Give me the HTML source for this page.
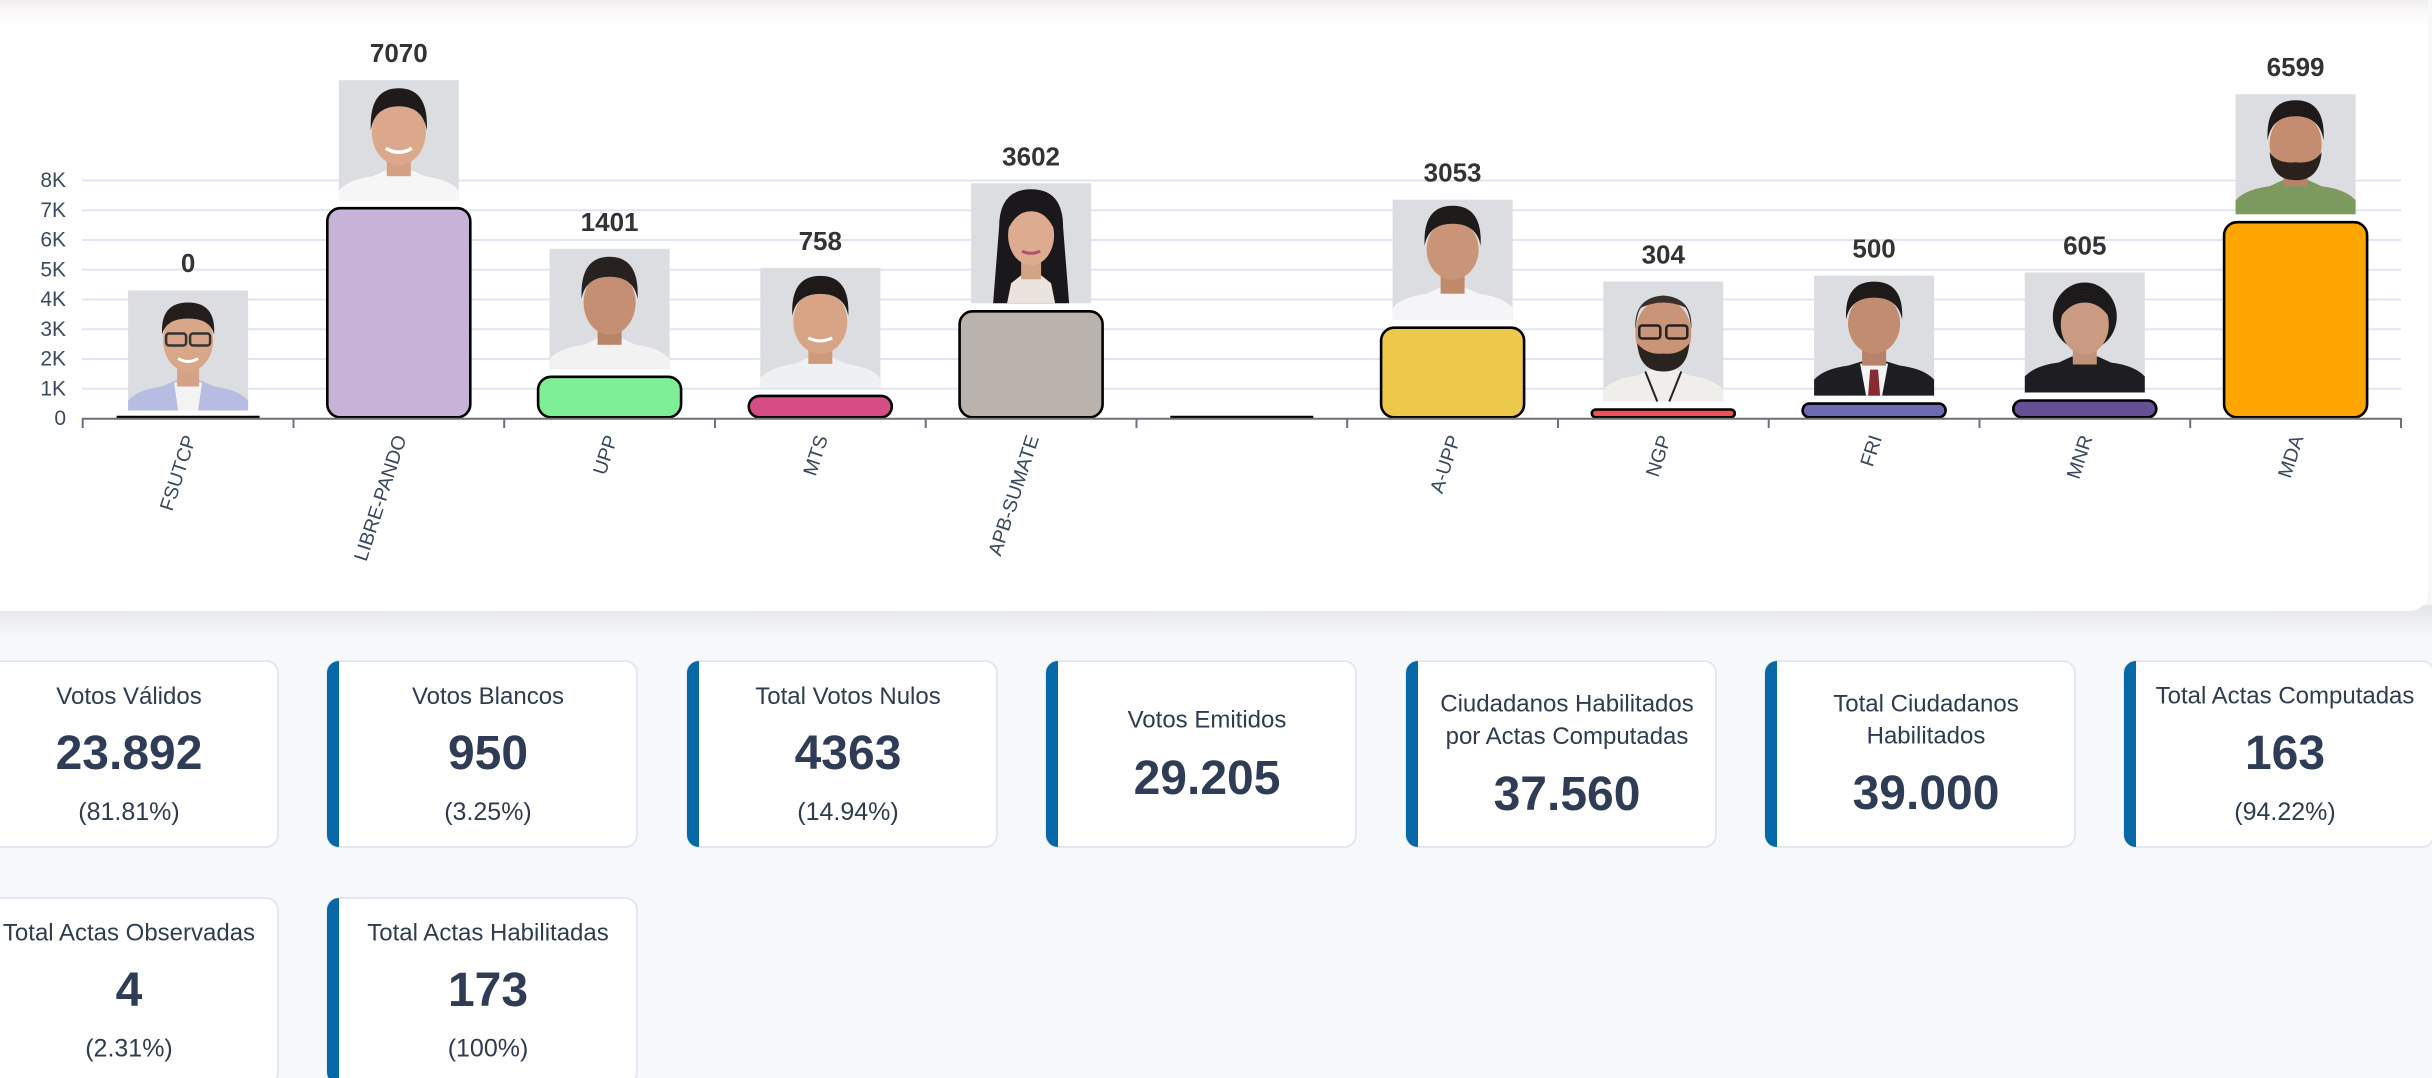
<!DOCTYPE html>
<html>
<head>
<meta charset="utf-8">
<style>
html,body{margin:0;padding:0;background:#f7f8fa;}
body{width:2432px;height:1078px;overflow:hidden;}
svg{display:block;font-family:"Liberation Sans",Arial,sans-serif;}
</style>
</head>
<body>
<svg width="2432" height="1078" viewBox="0 0 2432 1078" xmlns="http://www.w3.org/2000/svg">
<defs>
<linearGradient id="topg" x1="0" y1="0" x2="0" y2="1">
<stop offset="0" stop-color="#f3eeee"/>
<stop offset="1" stop-color="#ffffff" stop-opacity="0"/>
</linearGradient>
<linearGradient id="shad" x1="0" y1="0" x2="0" y2="1">
<stop offset="0" stop-color="#e4e5e8"/>
<stop offset="0.5" stop-color="#eeeff1"/>
<stop offset="1" stop-color="#f7f8fa"/>
</linearGradient>
<clipPath id="k1"><rect x="-32" y="661" width="310" height="186" rx="12"/></clipPath>
<clipPath id="k2"><rect x="327" y="661" width="310" height="186" rx="12"/></clipPath>
<clipPath id="k3"><rect x="687" y="661" width="310" height="186" rx="12"/></clipPath>
<clipPath id="k4"><rect x="1046" y="661" width="310" height="186" rx="12"/></clipPath>
<clipPath id="k5"><rect x="1406" y="661" width="310" height="186" rx="12"/></clipPath>
<clipPath id="k6"><rect x="1765" y="661" width="310" height="186" rx="12"/></clipPath>
<clipPath id="k7"><rect x="2124" y="661" width="310" height="186" rx="12"/></clipPath>
<clipPath id="k8"><rect x="-32" y="898" width="310" height="186" rx="12"/></clipPath>
<clipPath id="k9"><rect x="327" y="898" width="310" height="186" rx="12"/></clipPath>
</defs>

<!-- page background -->
<rect x="0" y="0" width="2432" height="1078" fill="#f7f8fa"/>
<rect x="0" y="605" width="2432" height="35" fill="url(#shad)"/>

<!-- chart card -->
<rect x="-20" y="-20" width="2448" height="631" rx="18" fill="#ffffff"/>
<rect x="0" y="0" width="2428" height="34" fill="url(#topg)"/>

<!-- gridlines -->
<g stroke="#e0e6f1" stroke-width="2">
<line x1="82" y1="180.5" x2="2401" y2="180.5"/>
<line x1="82" y1="210.25" x2="2401" y2="210.25"/>
<line x1="82" y1="240" x2="2401" y2="240"/>
<line x1="82" y1="269.75" x2="2401" y2="269.75"/>
<line x1="82" y1="299.5" x2="2401" y2="299.5"/>
<line x1="82" y1="329.25" x2="2401" y2="329.25"/>
<line x1="82" y1="359" x2="2401" y2="359"/>
<line x1="82" y1="388.75" x2="2401" y2="388.75"/>
</g>

<!-- y labels -->
<g font-size="21" fill="#3c4a5f" text-anchor="end" dominant-baseline="central">
<text x="66" y="180.5">8K</text>
<text x="66" y="210.25">7K</text>
<text x="66" y="240">6K</text>
<text x="66" y="269.75">5K</text>
<text x="66" y="299.5">4K</text>
<text x="66" y="329.25">3K</text>
<text x="66" y="359">2K</text>
<text x="66" y="388.75">1K</text>
<text x="66" y="418.5">0</text>
</g>

<!-- bars -->
<g stroke="#000" stroke-width="2.6">
<line x1="116.6" y1="417.3" x2="259.6" y2="417.3" stroke-width="3"/>
<rect x="327.3" y="208.2" width="143" height="209.1" rx="13" fill="#c8b3d8"/>
<rect x="538.1" y="376.8" width="143" height="40.5" rx="13" fill="#7fef96"/>
<rect x="748.8" y="395.9" width="143" height="21.4" rx="10.7" fill="#d64d85"/>
<rect x="959.6" y="311.3" width="143" height="106" rx="13" fill="#bab2ad"/>
<line x1="1170.3" y1="417.3" x2="1313.3" y2="417.3" stroke-width="3"/>
<rect x="1381.1" y="327.7" width="143" height="89.6" rx="13" fill="#ecc94b"/>
<rect x="1591.8" y="409.5" width="143" height="7.8" rx="3.9" fill="#f0505a"/>
<rect x="1802.6" y="403.6" width="143" height="13.7" rx="6.8" fill="#6e6bb5"/>
<rect x="2013.3" y="400.5" width="143" height="16.8" rx="8.4" fill="#654f95"/>
<rect x="2224.1" y="222.2" width="143" height="195.1" rx="13" fill="#ffa500"/>
</g>

<!-- axis -->
<g stroke="#6e7079" stroke-width="2">
<line x1="82" y1="418.7" x2="2401" y2="418.7"/>
<line x1="82.7" y1="418" x2="82.7" y2="428"/>
<line x1="293.5" y1="418" x2="293.5" y2="428"/>
<line x1="504.2" y1="418" x2="504.2" y2="428"/>
<line x1="715" y1="418" x2="715" y2="428"/>
<line x1="925.7" y1="418" x2="925.7" y2="428"/>
<line x1="1136.5" y1="418" x2="1136.5" y2="428"/>
<line x1="1347.2" y1="418" x2="1347.2" y2="428"/>
<line x1="1558" y1="418" x2="1558" y2="428"/>
<line x1="1768.7" y1="418" x2="1768.7" y2="428"/>
<line x1="1979.5" y1="418" x2="1979.5" y2="428"/>
<line x1="2190.2" y1="418" x2="2190.2" y2="428"/>
<line x1="2401" y1="418" x2="2401" y2="428"/>
</g>

<!-- x labels -->
<g font-size="19.5" fill="#3a475c" text-anchor="end" dominant-baseline="central">
<text transform="translate(190.5,436) rotate(-72)">FSUTCP</text>
<text transform="translate(401,436) rotate(-72)">LIBRE-PANDO</text>
<text transform="translate(612,436) rotate(-72)">UPP</text>
<text transform="translate(822.5,436) rotate(-72)">MTS</text>
<text transform="translate(1033.5,436) rotate(-72)">APB-SUMATE</text>
<text transform="translate(1455,436) rotate(-72)">A-UPP</text>
<text transform="translate(1665.5,436) rotate(-72)">NGP</text>
<text transform="translate(1876.5,436) rotate(-72)">FRI</text>
<text transform="translate(2087,436) rotate(-72)">MNR</text>
<text transform="translate(2298,436) rotate(-72)">MDA</text>
</g>

<!-- value labels -->
<g font-size="26" font-weight="bold" fill="#333333" text-anchor="middle">
<text x="188.1" y="272">0</text>
<text x="398.8" y="62">7070</text>
<text x="609.6" y="230.8">1401</text>
<text x="820.3" y="249.9">758</text>
<text x="1031.1" y="165.3">3602</text>
<text x="1452.6" y="181.7">3053</text>
<text x="1663.3" y="263.5">304</text>
<text x="1874.1" y="257.6">500</text>
<text x="2084.8" y="254.5">605</text>
<text x="2295.6" y="76.2">6599</text>
</g>

<!-- photos -->
<!-- FSUTCP -->
<g transform="translate(128.1,290.5)">
<rect width="120" height="120" fill="#dcdde1"/>
<path d="M0,120 L0,110 Q10,99 34,96 L47,90 L73,90 L86,96 Q110,99 120,110 L120,120 Z" fill="#b7bde2"/>
<path d="M46,92 L74,92 L70,120 L50,120 Z" fill="#f3f3f3"/>
<rect x="49" y="74" width="22" height="22" fill="#d6a285"/>
<ellipse cx="60" cy="50" rx="25" ry="31" fill="#d9a689"/>
<path d="M34,44 Q32,12 60,12 Q88,12 86,44 Q82,28 60,28 Q38,28 34,44 Z" fill="#231e1c"/>
<rect x="38" y="43" width="20" height="12" rx="3" fill="none" stroke="#333" stroke-width="2.5"/>
<rect x="62" y="43" width="20" height="12" rx="3" fill="none" stroke="#333" stroke-width="2.5"/>
<path d="M50,68 Q60,74 70,68" fill="none" stroke="#fff" stroke-width="3"/>
</g>
<!-- LIBRE-PANDO -->
<g transform="translate(338.8,80.2)">
<rect width="120" height="120" fill="#dcdde1"/>
<path d="M0,120 L0,110 Q10,99 34,96 L47,90 L73,90 L86,96 Q110,99 120,110 L120,120 Z" fill="#f6f6f6"/>
<rect x="48" y="74" width="24" height="22" fill="#d3a084"/>
<ellipse cx="60" cy="52" rx="27" ry="33" fill="#dba88b"/>
<path d="M32,50 Q30,8 60,8 Q90,8 88,50 Q84,26 60,26 Q36,26 32,50 Z" fill="#1f1b1a"/>
<path d="M47,68 Q60,76 73,68" fill="none" stroke="#fff" stroke-width="3.5"/>
</g>
<!-- UPP -->
<g transform="translate(549.6,248.8)">
<rect width="120" height="120" fill="#dcdde1"/>
<path d="M0,120 L0,110 Q10,99 34,96 L47,90 L73,90 L86,96 Q110,99 120,110 L120,120 Z" fill="#f2f2f2"/>
<rect x="48" y="74" width="24" height="22" fill="#b98569"/>
<ellipse cx="60" cy="54" rx="26" ry="32" fill="#c48f73"/>
<path d="M32,50 Q30,8 60,8 Q90,8 88,50 Q84,28 60,28 Q36,28 32,50 Z" fill="#27221f"/>
</g>
<!-- MTS -->
<g transform="translate(760.3,267.9)">
<rect width="120" height="120" fill="#dcdde1"/>
<path d="M0,120 L0,110 Q10,99 34,96 L47,90 L73,90 L86,96 Q110,99 120,110 L120,120 Z" fill="#eef0f2"/>
<rect x="48" y="74" width="24" height="22" fill="#cf9a7c"/>
<ellipse cx="60" cy="54" rx="27" ry="32" fill="#d8a486"/>
<path d="M32,48 Q30,8 60,8 Q90,8 88,48 Q84,26 60,26 Q36,26 32,48 Z" fill="#1d1a19"/>
<path d="M48,70 Q60,76 72,70" fill="none" stroke="#fff" stroke-width="3"/>
</g>
<!-- APB-SUMATE -->
<g transform="translate(971.1,183.3)">
<rect width="120" height="120" fill="#dcdde1"/>
<path d="M28,44 Q28,6 60,6 Q92,6 92,44 L98,120 L22,120 Z" fill="#1b181b"/>
<path d="M36,120 L40,100 L50,92 L70,92 L80,100 L84,120 Z" fill="#ebe3de"/>
<rect x="50" y="76" width="20" height="20" fill="#d3a287"/>
<ellipse cx="60" cy="52" rx="23" ry="30" fill="#dcab90"/>
<path d="M38,44 Q40,20 60,20 Q80,20 82,44 Q74,28 60,28 Q46,28 38,44 Z" fill="#1b181b"/>
<path d="M51,68 Q60,72 69,68" fill="none" stroke="#b0506a" stroke-width="3"/>
</g>
<!-- A-UPP -->
<g transform="translate(1392.6,199.7)">
<rect width="120" height="120" fill="#dcdde1"/>
<path d="M0,120 L0,108 Q10,97 34,94 L47,88 L73,88 L86,94 Q110,97 120,108 L120,120 Z" fill="#f5f5f7"/>
<rect x="48" y="72" width="24" height="22" fill="#bf8a6c"/>
<ellipse cx="60" cy="50" rx="26" ry="30" fill="#c99477"/>
<path d="M32,46 Q30,6 60,6 Q90,6 88,46 Q84,24 60,24 Q36,24 32,46 Z" fill="#1f1b1a"/>
</g>
<!-- NGP -->
<g transform="translate(1603.3,281.5)">
<rect width="120" height="120" fill="#dcdde1"/>
<path d="M0,120 L0,108 Q10,97 34,94 L47,88 L73,88 L86,94 Q110,97 120,108 L120,120 Z" fill="#efeeea"/>
<path d="M42,90 L54,120 M78,90 L66,120" stroke="#222" stroke-width="2"/>
<ellipse cx="60" cy="52" rx="28" ry="34" fill="#c99478"/>
<path d="M32,48 Q30,16 60,14 Q90,16 88,48 Q86,30 82,26 Q60,16 38,26 Q34,30 32,48 Z" fill="#3a302b"/>
<path d="M34,62 Q36,90 60,90 Q84,90 86,62 Q76,74 60,72 Q44,74 34,62 Z" fill="#2a2320"/>
<rect x="36" y="44" width="21" height="13" rx="3" fill="none" stroke="#222" stroke-width="2.5"/>
<rect x="63" y="44" width="21" height="13" rx="3" fill="none" stroke="#222" stroke-width="2.5"/>
</g>
<!-- FRI -->
<g transform="translate(1814.1,275.6)">
<rect width="120" height="120" fill="#dcdde1"/>
<path d="M0,120 L0,104 Q10,93 34,90 L47,86 L73,86 L86,90 Q110,93 120,104 L120,120 Z" fill="#1e1e22"/>
<path d="M46,88 L74,88 L68,120 L52,120 Z" fill="#f4f4f4"/>
<path d="M56,94 L64,94 L66,120 L54,120 Z" fill="#8a2a32"/>
<rect x="48" y="70" width="24" height="20" fill="#b8826a"/>
<ellipse cx="60" cy="48" rx="26" ry="30" fill="#c18c70"/>
<path d="M32,44 Q30,6 60,6 Q90,6 88,44 Q84,22 60,22 Q36,22 32,44 Z" fill="#1d1a19"/>
</g>
<!-- MNR -->
<g transform="translate(2024.8,272.5)">
<rect width="120" height="120" fill="#dcdde1"/>
<ellipse cx="60" cy="44" rx="32" ry="34" fill="#1d1a1c"/>
<path d="M0,120 L0,104 Q10,93 34,90 L47,84 L73,84 L86,90 Q110,93 120,104 L120,120 Z" fill="#1e1d22"/>
<rect x="48" y="70" width="24" height="22" fill="#c2917a"/>
<ellipse cx="60" cy="52" rx="24" ry="30" fill="#cb9a82"/>
<path d="M36,44 Q38,22 60,22 Q82,22 84,44 Q74,30 60,30 Q46,30 36,44 Z" fill="#1d1a1c"/>
</g>
<!-- MDA -->
<g transform="translate(2235.6,94.2)">
<rect width="120" height="120" fill="#dcdde1"/>
<path d="M0,120 L0,106 Q10,95 34,92 L47,86 L73,86 L86,92 Q110,95 120,106 L120,120 Z" fill="#7c9a5e"/>
<rect x="48" y="72" width="24" height="20" fill="#b98266"/>
<ellipse cx="60" cy="50" rx="26" ry="32" fill="#c58d70"/>
<path d="M32,46 Q30,6 60,6 Q90,6 88,46 Q84,22 60,22 Q36,22 32,46 Z" fill="#1d1a19"/>
<path d="M34,58 Q36,86 60,86 Q84,86 86,58 Q78,70 60,68 Q42,70 34,58 Z" fill="#2a211d"/>
</g>

<!-- stat cards row 1 -->
<g stroke="#e2e8f0" stroke-width="2" fill="#ffffff">
<rect x="-32" y="661" width="310" height="186" rx="12"/>
<rect x="327" y="661" width="310" height="186" rx="12"/>
<rect x="687" y="661" width="310" height="186" rx="12"/>
<rect x="1046" y="661" width="310" height="186" rx="12"/>
<rect x="1406" y="661" width="310" height="186" rx="12"/>
<rect x="1765" y="661" width="310" height="186" rx="12"/>
<rect x="2124" y="661" width="310" height="186" rx="12"/>
<rect x="-32" y="898" width="310" height="186" rx="12"/>
<rect x="327" y="898" width="310" height="186" rx="12"/>
</g>
<g fill="#0668a6">
<rect x="-32" y="661" width="12" height="186" clip-path="url(#k1)"/>
<rect x="327" y="661" width="12" height="186" clip-path="url(#k2)"/>
<rect x="687" y="661" width="12" height="186" clip-path="url(#k3)"/>
<rect x="1046" y="661" width="12" height="186" clip-path="url(#k4)"/>
<rect x="1406" y="661" width="12" height="186" clip-path="url(#k5)"/>
<rect x="1765" y="661" width="12" height="186" clip-path="url(#k6)"/>
<rect x="2124" y="661" width="12" height="186" clip-path="url(#k7)"/>
<rect x="-32" y="898" width="12" height="186" clip-path="url(#k8)"/>
<rect x="327" y="898" width="12" height="186" clip-path="url(#k9)"/>
</g>

<!-- card titles -->
<g font-size="24" fill="#2f3b4f" text-anchor="middle">
<text x="129" y="704">Votos Válidos</text>
<text x="488" y="704">Votos Blancos</text>
<text x="848" y="704">Total Votos Nulos</text>
<text x="1207" y="727.5">Votos Emitidos</text>
<text x="1567" y="711.5">Ciudadanos Habilitados</text>
<text x="1567" y="744">por Actas Computadas</text>
<text x="1926" y="711.5">Total Ciudadanos</text>
<text x="1926" y="743.5">Habilitados</text>
<text x="2285" y="703.5">Total Actas Computadas</text>
<text x="129" y="940.5">Total Actas Observadas</text>
<text x="488" y="940.5">Total Actas Habilitadas</text>
</g>
<!-- card values -->
<g font-size="48" font-weight="bold" fill="#2e3d55" text-anchor="middle">
<text x="129" y="769">23.892</text>
<text x="488" y="769">950</text>
<text x="848" y="769">4363</text>
<text x="1207" y="794">29.205</text>
<text x="1567" y="810">37.560</text>
<text x="1926" y="809">39.000</text>
<text x="2285" y="769">163</text>
<text x="129" y="1006">4</text>
<text x="488" y="1006">173</text>
</g>
<!-- card percents -->
<g font-size="25" fill="#2f3b4f" text-anchor="middle">
<text x="129" y="820">(81.81%)</text>
<text x="488" y="820">(3.25%)</text>
<text x="848" y="820">(14.94%)</text>
<text x="2285" y="820">(94.22%)</text>
<text x="129" y="1056.5">(2.31%)</text>
<text x="488" y="1056.5">(100%)</text>
</g>
</svg>
</body>
</html>
